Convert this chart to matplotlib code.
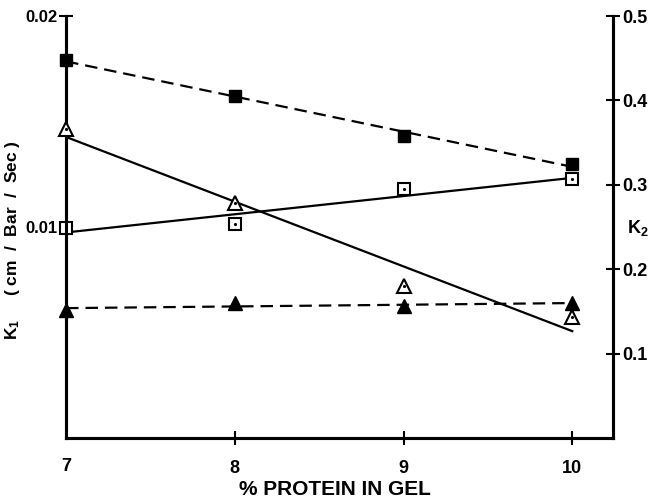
import matplotlib
matplotlib.use("Agg")
import matplotlib.pyplot as plt
import numpy as np

plt.rcParams["font.family"] = ["Liberation Sans", "DejaVu Sans"]
plt.rcParams["font.weight"] = "bold"
plt.rcParams["mathtext.default"] = "regular"
plt.rcParams["lines.scale_dashes"] = False

# data
protein = np.array([7, 8, 9, 10])
k1_filled_sq = np.array([0.01791, 0.01621, 0.01431, 0.01299])
k1_open_sq = np.array([0.00995, 0.01014, 0.01180, 0.01227])
k2_open_tri = np.array([0.366, 0.278, 0.180, 0.143])
k2_filled_tri = np.array([0.152, 0.160, 0.156, 0.160])

x_ticks = [8, 9, 10]
x_ticklabels = ["8", "9", "10"]
k1_ticks = [0.01, 0.02]
k1_ticklabels = ["0.01", "0.02"]
k2_ticks = [0.1, 0.2, 0.3, 0.4, 0.5]
k2_ticklabels = ["0.1", "0.2", "0.3", "0.4", "0.5"]

fig = plt.figure(figsize=(6.54, 5.03), dpi=100)
ax = fig.add_axes([0.101, 0.129, 0.836, 0.839])
ax2 = ax.twinx()

xfit = np.array([7, 10])


def fit(x, y):
    p = np.polyfit(x, y, 1)
    return np.polyval(p, xfit)


lw = 1.6
# squares on K1 axis
ax.plot(xfit, fit(protein, k1_filled_sq), color="black", lw=lw, dashes=[9, 5])
ax.plot(protein, k1_filled_sq, "s", color="black", ms=9, clip_on=False, zorder=5)
ax.plot(xfit, fit(protein, k1_open_sq), color="black", lw=lw)
ax.plot(protein, k1_open_sq, "s", mfc="white", mec="black", mew=1.5, ms=8,
        clip_on=False, zorder=5)
ax.plot(protein, k1_open_sq, ".", color="black", ms=2.5, clip_on=False, zorder=6)

# triangles on K2 axis
ax2.plot(xfit, fit(protein, k2_filled_tri), color="black", lw=lw, dashes=[9, 5])
ax2.plot(protein, k2_filled_tri, "^", color="black", ms=10, clip_on=False, zorder=5)
ax2.plot(xfit, fit(protein, k2_open_tri), color="black", lw=lw)
ax2.plot(protein, k2_open_tri, "^", mfc="white", mec="black", mew=1.5, ms=10,
         clip_on=False, zorder=5)
ax2.plot(protein, k2_open_tri, ".", color="black", ms=2.5, clip_on=False, zorder=6)

ax.set_xlim(7, 10.24)
ax.set_ylim(0, 0.02)
ax2.set_ylim(0, 0.5)

for a in (ax, ax2):
    a.spines["top"].set_visible(False)
    for s in ("left", "right", "bottom"):
        a.spines[s].set_linewidth(2.2)

ax.set_xticks(x_ticks)
ax.set_xticklabels(x_ticklabels)
ax.set_yticks(k1_ticks)
ax.set_yticklabels(k1_ticklabels)
ax2.set_yticks(k2_ticks)
ax2.set_yticklabels(k2_ticklabels)

ax.tick_params(axis="x", direction="inout", length=10, width=1.5, labelsize=13, pad=11)
ax.tick_params(axis="y", direction="inout", length=10, width=1.5, labelsize=12, pad=1)
ax2.tick_params(axis="y", direction="inout", length=10, width=1.5, labelsize=13, pad=2)
for lab in ax.get_xticklabels() + ax.get_yticklabels() + ax2.get_yticklabels():
    lab.set_fontweight("bold")

# 7 under the corner
ax.text(7, -0.00095, "7", ha="center", va="top", fontsize=13, fontweight="bold")

fig.text(0.512, 0.026, "% PROTEIN IN GEL", ha="center", va="center",
         fontsize=15, fontweight="bold")
fig.text(0.019, 0.523, "K$_1$     ( cm  /  Bar  /  Sec )", rotation=90,
         ha="center", va="center", fontsize=12.5, fontweight="bold")
fig.text(0.976, 0.547, "K$_2$", ha="center", va="center", fontsize=13,
         fontweight="bold")

fig.savefig("out.png", dpi=100)
